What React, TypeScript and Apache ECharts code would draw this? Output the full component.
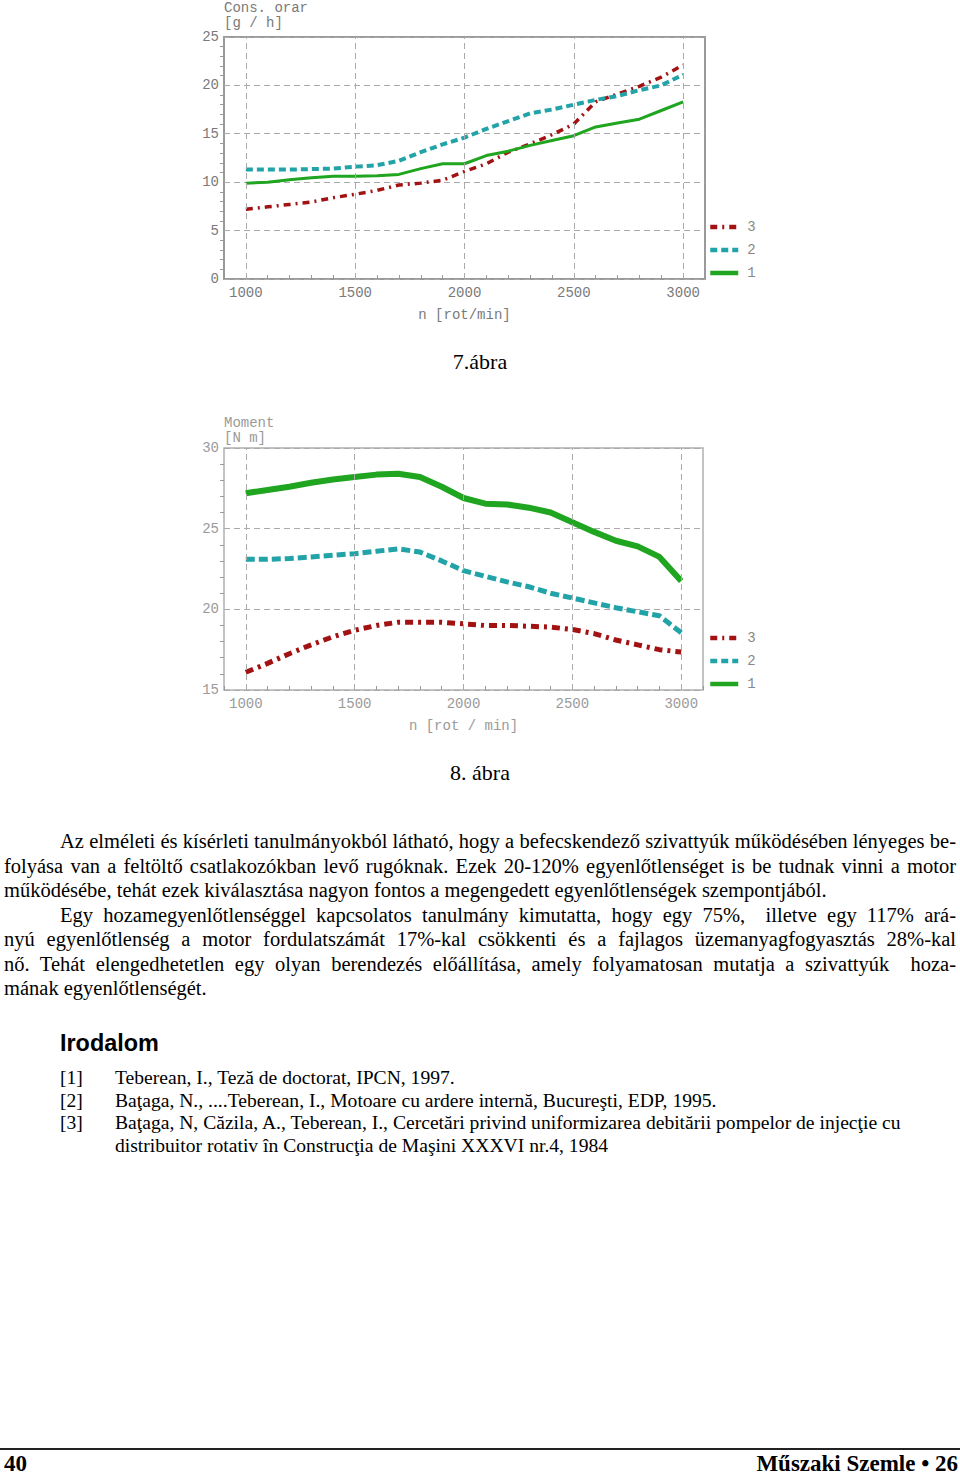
import React, { useEffect, useRef } from "react";
import * as echarts from "echarts";

// ---------- DATA ----------
const rpm = [1000, 1100, 1200, 1300, 1400, 1500, 1600, 1700, 1800, 1900, 2000, 2100, 2200, 2300, 2400, 2500, 2600, 2700, 2800, 2900, 3000];

// 7. ábra – Cons. orar [g/h]
const cons1 = [9.9, 10.0, 10.25, 10.45, 10.6, 10.6, 10.65, 10.8, 11.4, 11.9, 11.9, 12.75, 13.2, 13.8, 14.3, 14.8, 15.7, 16.1, 16.5, 17.4, 18.3];
const cons2 = [11.3, 11.3, 11.3, 11.35, 11.4, 11.6, 11.75, 12.2, 13.1, 13.9, 14.6, 15.5, 16.3, 17.1, 17.5, 18.0, 18.5, 18.9, 19.5, 20.0, 21.1];
const cons3 = [7.2, 7.45, 7.7, 7.95, 8.4, 8.75, 9.15, 9.7, 9.9, 10.2, 11.1, 11.9, 13.1, 13.95, 14.9, 16.0, 18.3, 19.1, 19.9, 20.85, 22.1];

// 8. ábra – Moment [N m]
const mom1 = [27.2, 27.4, 27.6, 27.85, 28.05, 28.2, 28.35, 28.4, 28.2, 27.6, 26.9, 26.55, 26.5, 26.3, 26.0, 25.4, 24.8, 24.25, 23.9, 23.25, 21.75];
const mom2 = [23.1, 23.1, 23.15, 23.25, 23.35, 23.45, 23.6, 23.75, 23.55, 23.0, 22.4, 22.05, 21.7, 21.4, 21.0, 20.7, 20.4, 20.1, 19.85, 19.6, 18.55];
const mom3 = [16.1, 16.65, 17.25, 17.8, 18.3, 18.7, 19.0, 19.2, 19.2, 19.2, 19.1, 19.0, 19.0, 18.95, 18.9, 18.75, 18.5, 18.1, 17.8, 17.5, 17.35];

const xGridValues = [1000, 1500, 2000, 2500, 3000];
const legendNames = ["3", "2", "1"];

const GREEN = "#1fa51f";
const TEAL = "#22a3a8";
const RED = "#a31212";

const pairs = (ys: number[]) => rpm.map((x, i) => [x, ys[i]]);

const MONO = "'Liberation Mono', 'DejaVu Sans Mono', monospace";
const SERIF = "'Liberation Serif', 'Times New Roman', serif";

function xAxisCfg(gridIndex: number, name: string, color: string) {
  return {
    type: "value",
    gridIndex,
    min: 900,
    max: 3100,
    interval: 100,
    name,
    nameLocation: "middle",
    nameGap: 29,
    nameTextStyle: { color, fontFamily: MONO, fontSize: 14 },
    axisLine: { show: false },
    axisTick: { show: true, inside: true, length: 4, lineStyle: { color: "#999" } },
    axisLabel: {
      color,
      fontFamily: MONO,
      fontSize: 14,
      margin: 7,
      formatter: (v: number) => (v % 500 === 0 ? String(v) : ""),
    },
    splitLine: { show: false },
  };
}

function yAxisCfg(gridIndex: number, min: number, max: number, name: string, color: string) {
  return {
    type: "value",
    gridIndex,
    min,
    max,
    interval: 5,
    name,
    nameLocation: "end",
    nameGap: 3,
    nameTextStyle: { color, fontFamily: MONO, fontSize: 14, align: "left", verticalAlign: "bottom", lineHeight: 15 },
    axisLine: { show: false },
    axisTick: { show: false },
    minorTick: { show: true, splitNumber: 5, length: 4, lineStyle: { color: "#999" } },
    axisLabel: { color, fontFamily: MONO, fontSize: 14, margin: 5 },
    splitLine: { show: true, lineStyle: { color: "#aaa", type: [6, 4], width: 1 } },
  };
}

function gridHelper(xAxisIndex: number, yAxisIndex: number) {
  return {
    name: "grid" + xAxisIndex,
    type: "line",
    xAxisIndex,
    yAxisIndex,
    data: [],
    z: 1,
    silent: true,
    markLine: {
      silent: true,
      symbol: ["none", "none"],
      label: { show: false },
      lineStyle: { color: "#aaa", type: [6, 4], width: 1 },
      data: xGridValues.map((v) => ({ xAxis: v })),
    },
  };
}

function lineSeries(name: string, xi: number, ys: number[], color: string, type: any, width: number) {
  return {
    name,
    type: "line",
    xAxisIndex: xi,
    yAxisIndex: xi,
    data: pairs(ys),
    symbol: "none",
    z: 3,
    lineStyle: { color, width, type, cap: "butt" },
    itemStyle: { color },
  };
}

function legendCfg(top: number) {
  return {
    data: legendNames,
    orient: "vertical",
    left: 708,
    top,
    padding: 0,
    itemWidth: 28,
    itemHeight: 14,
    itemGap: 9,
    itemStyle: { opacity: 0 },
    lineStyle: { width: 4.5 },
    textStyle: { color: "#888", fontFamily: MONO, fontSize: 14, padding: [0, 0, 0, 4] },
    selectedMode: false,
  };
}

function Chart() {
  const ref = useRef<HTMLDivElement>(null);
  useEffect(() => {
    if (!ref.current) return;
    const chart = echarts.init(ref.current, undefined, { renderer: "svg" });
    chart.setOption({
      animation: false,
      backgroundColor: "#fff",
      grid: [
        { left: 224, top: 36, width: 481, height: 243, show: true, borderColor: "#9a9a9a", borderWidth: 2, backgroundColor: "transparent" },
        { left: 224, top: 448, width: 479, height: 242, show: true, borderColor: "#b0b0b0", borderWidth: 1.5, backgroundColor: "transparent" },
      ],
      xAxis: [xAxisCfg(0, "n [rot/min]", "#7a7a7a"), xAxisCfg(1, "n [rot / min]", "#9a9a9a")],
      yAxis: [yAxisCfg(0, 0, 25, "Cons. orar\n[g / h]", "#7a7a7a"), yAxisCfg(1, 15, 30, "Moment\n[N m]", "#9a9a9a")],
      legend: [legendCfg(220), legendCfg(631)],
      series: [
        gridHelper(0, 0),
        gridHelper(1, 1),
        lineSeries("3", 0, cons3, RED, [7, 5, 2, 5], 3.5),
        lineSeries("2", 0, cons2, TEAL, [7, 4], 4),
        lineSeries("1", 0, cons1, GREEN, "solid", 3),
        lineSeries("3", 1, mom3, RED, [8, 5, 3, 5], 5),
        lineSeries("2", 1, mom2, TEAL, [9, 4], 5),
        lineSeries("1", 1, mom1, GREEN, "solid", 6),
      ],
    });
    return () => chart.dispose();
  }, []);
  return <div ref={ref} style={{ position: "absolute", left: 0, top: 0, width: 960, height: 800 }} />;
}

const para1 = [
  "Az elméleti és kísérleti tanulmányokból látható, hogy a befecskendező szivattyúk működésében lényeges be-",
  "folyása van a feltöltő csatlakozókban levő rugóknak. Ezek 20-120% egyenlőtlenséget is be tudnak vinni a motor",
  "működésébe, tehát ezek kiválasztása nagyon fontos a megengedett egyenlőtlenségek szempontjából.",
];
const para2 = [
  "Egy hozamegyenlőtlenséggel kapcsolatos tanulmány kimutatta, hogy egy 75%,  illetve egy 117% ará-",
  "nyú egyenlőtlenség a motor fordulatszámát 17%-kal csökkenti és a fajlagos üzemanyagfogyasztás 28%-kal",
  "nő. Tehát elengedhetetlen egy olyan berendezés előállítása, amely folyamatosan mutatja a szivattyúk  hoza-",
  "mának egyenlőtlenségét.",
];
const refs = [
  ["[1]", "Teberean, I., Teză de doctorat, IPCN, 1997."],
  ["[2]", "Baţaga, N., ....Teberean, I., Motoare cu ardere internă, Bucureşti, EDP, 1995."],
  ["[3]", "Baţaga, N, Căzila, A., Teberean, I., Cercetări privind uniformizarea debitării pompelor de injecţie cu"],
  ["", "distribuitor rotativ în Construcţia de Maşini XXXVI nr.4, 1984"],
];

function Para({ lines, top }: { lines: string[]; top: number }) {
  return (
    <>
      {lines.map((l, i) => {
        const last = i === lines.length - 1;
        return (
          <div
            key={i}
            style={{
              position: "absolute",
              left: i === 0 ? 60 : 4,
              width: i === 0 ? 896 : 952,
              top: top + i * 24.5,
              height: 24.5,
              lineHeight: "24.5px",
              fontFamily: SERIF,
              fontSize: 20.5,
              whiteSpace: "pre",
              textAlign: last ? "left" : "justify",
              textAlignLast: last ? "left" : "justify",
              color: "#000",
            } as any}
          >
            {l}
          </div>
        );
      })}
    </>
  );
}

export default function App() {
  return (
    <div style={{ position: "absolute", left: 0, top: 0, width: 960, height: 1478, background: "#fff" }}>
      <Chart />
      <div style={{ position: "absolute", left: 0, width: 960, top: 349, lineHeight: "26px", textAlign: "center", fontFamily: SERIF, fontSize: 22 }}>7.ábra</div>
      <div style={{ position: "absolute", left: 0, width: 960, top: 760, lineHeight: "26px", textAlign: "center", fontFamily: SERIF, fontSize: 22 }}>8. ábra</div>
      <Para lines={para1} top={829} />
      <Para lines={para2} top={829 + 3 * 24.5} />
      <div style={{ position: "absolute", left: 60, top: 1028, lineHeight: "30px", fontFamily: "'Liberation Sans', Arial, sans-serif", fontWeight: "bold", fontSize: 23.4 }}>Irodalom</div>
      {refs.map((r, i) => (
        <React.Fragment key={i}>
          <div style={{ position: "absolute", left: 60, top: 1067 + i * 22.5, lineHeight: "22.5px", fontFamily: SERIF, fontSize: 19.6 }}>{r[0]}</div>
          <div style={{ position: "absolute", left: 115, top: 1067 + i * 22.5, lineHeight: "22.5px", fontFamily: SERIF, fontSize: 19.6, whiteSpace: "pre" }}>{r[1]}</div>
        </React.Fragment>
      ))}
      <div style={{ position: "absolute", left: 0, top: 1448, width: 960, height: 1.5, background: "#222" }} />
      <div style={{ position: "absolute", left: 4, top: 1452, lineHeight: "24px", fontFamily: SERIF, fontWeight: "bold", fontSize: 23 }}>40</div>
      <div style={{ position: "absolute", right: 2, top: 1452, lineHeight: "24px", fontFamily: SERIF, fontWeight: "bold", fontSize: 23 }}>Műszaki Szemle • 26</div>
    </div>
  );
}
